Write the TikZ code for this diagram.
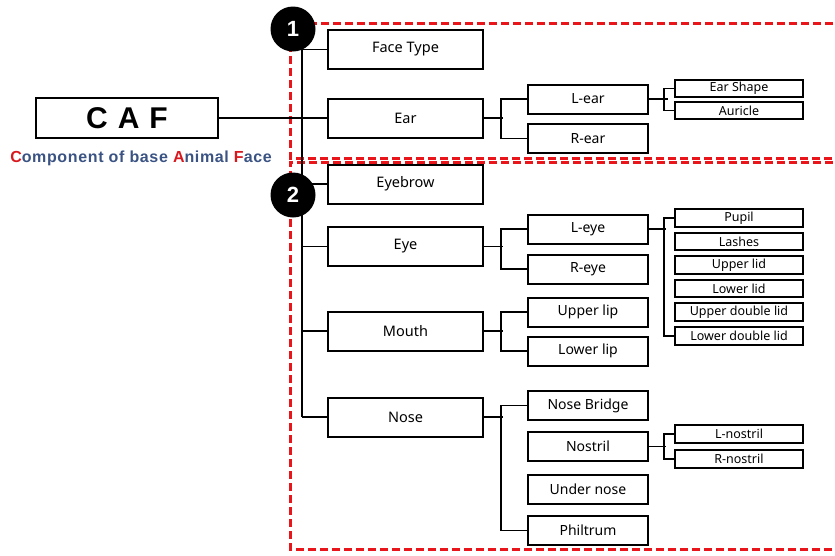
\documentclass[tikz,border=0pt]{standalone}
\usepackage{fontspec}
\setmainfont{Noto Sans}
\newfontfamily\arialb{Liberation Sans}
\definecolor{cafred}{HTML}{D7191F}
\definecolor{cafblue}{HTML}{3A5383}
\definecolor{dashred}{HTML}{E8161B}
\begin{document}
\begin{tikzpicture}[x=1pt,y=-1pt,
  boxA/.style={draw,line width=2pt,fill=white,minimum width=155pt,minimum height=39pt,inner sep=0pt,font=\fontsize{14.5}{16}\selectfont},
  boxB/.style={draw,line width=2pt,fill=white,minimum width=120pt,minimum height=29pt,inner sep=0pt,font=\fontsize{14}{16}\selectfont},
  boxC/.style={draw,line width=1.8pt,fill=white,minimum width=128pt,minimum height=17.5pt,inner sep=0pt,font=\fontsize{12.5}{14}\selectfont},
  conn/.style={line width=1.6pt},
  redbox/.style={draw=dashred,line width=3pt,dash pattern=on 8pt off 4pt},
  badge/.style={circle,fill=black,minimum size=45pt,inner sep=0pt,text=white,font=\arialb\bfseries\fontsize{22}{24}\selectfont}
]
\useasboundingbox (0,0) rectangle (835,555);
\clip (0,0) rectangle (835,555);
% red dashed regions
\draw[redbox] (845,23) -- (290,23) -- (290,158) -- (845,158);
\draw[redbox] (845,162) -- (290,162) -- (290,549) -- (845,549);

% CAF
\node[draw,line width=2pt,minimum width=182pt,minimum height=40pt,inner sep=0pt,font=\arialb\bfseries\fontsize{30}{32}\selectfont] (caf) at (127,118) {C\,\,A\,\,F};
\node[font=\arialb\bfseries\fontsize{16}{18}\selectfont\addfontfeature{LetterSpace=4},text=cafblue,inner sep=0pt] (sub) at (141,158) {\textcolor{cafred}{C}omponent of base \textcolor{cafred}{A}nimal \textcolor{cafred}{F}ace};

% level 1
\node[boxA] (face) at (405.5,49.5) {Face Type};
\node[boxA] (ear) at (405.5,118) {Ear};
\node[boxA] (brow) at (405.5,184) {Eyebrow};
\node[boxA] (eye) at (405.5,246.5) {Eye};
\node[boxA] (mouth) at (405.5,331) {Mouth};
\node[boxA] (nose) at (405.5,417) {Nose};

% level 2
\node[boxB] (lear) at (588,99) {L-ear};
\node[boxB] (rear) at (588,138.5) {R-ear};
\node[boxB] (leye) at (588,229) {L-eye};
\node[boxB] (reye) at (588,269) {R-eye};
\node[boxB] (ulip) at (588,312) {Upper lip};
\node[boxB] (llip) at (588,351) {Lower lip};
\node[boxB] (bridge) at (588,405.5) {Nose Bridge};
\node[boxB] (nostril) at (588,446.5) {Nostril};
\node[boxB] (under) at (588,489) {Under nose};
\node[boxB] (philtrum) at (588,530.5) {Philtrum};

% level 3
\node[boxC] (shape) at (739,88.5) {Ear Shape};
\node[boxC] (auricle) at (739,110.5) {Auricle};
\node[boxC] (pupil) at (739,218) {Pupil};
\node[boxC] (lashes) at (739,241.5) {Lashes};
\node[boxC] (ulid) at (739,265) {Upper lid};
\node[boxC] (llid) at (739,288.5) {Lower lid};
\node[boxC] (udlid) at (739,312) {Upper double lid};
\node[boxC] (ldlid) at (739,336) {Lower double lid};
\node[boxC] (lnos) at (739,434) {L-nostril};
\node[boxC] (rnos) at (739,459) {R-nostril};

% trunk
\coordinate (ttop) at (302,30);
\coordinate (tbot) at (302,417);
\draw[conn] (ttop) -- (tbot);
\draw[conn] (caf.east) -- (ear.west);
\foreach \n in {face,brow,eye,mouth,nose} \draw[conn] (\n.west) -- (\n.west -| ttop);

% level-2 branches
\draw[conn] (ear.east) -- ++(19,0);
\draw[conn] (lear.west) -- ++(-26,0) |- (rear.west);
\draw[conn] (eye.east) -- ++(19,0);
\draw[conn] (leye.west) -- ++(-26,0) |- (reye.west);
\draw[conn] (mouth.east) -- ++(19,0);
\draw[conn] (ulip.west) -- ++(-26,0) |- (llip.west);
\draw[conn] (nose.east) -- ++(19,0);
\draw[conn] (bridge.west) -- ++(-26,0) |- (philtrum.west);

% level-3 brackets
\draw[conn] (lear.east) -- ++(19,0);
\draw[conn] (shape.west) -- ++(-10,0) |- (auricle.west);
\draw[conn] (leye.east) -- ++(17,0);
\draw[conn] (pupil.west) -- ++(-10,0) |- (ldlid.west);
\draw[conn] (nostril.east) -- ++(17,0);
\draw[conn] (lnos.west) -- ++(-10,0) |- (rnos.west);

% badges
\node[badge] (b1) at (293,29) {1};
\node[badge] (b2) at (293,195) {2};
\end{tikzpicture}
\end{document}
